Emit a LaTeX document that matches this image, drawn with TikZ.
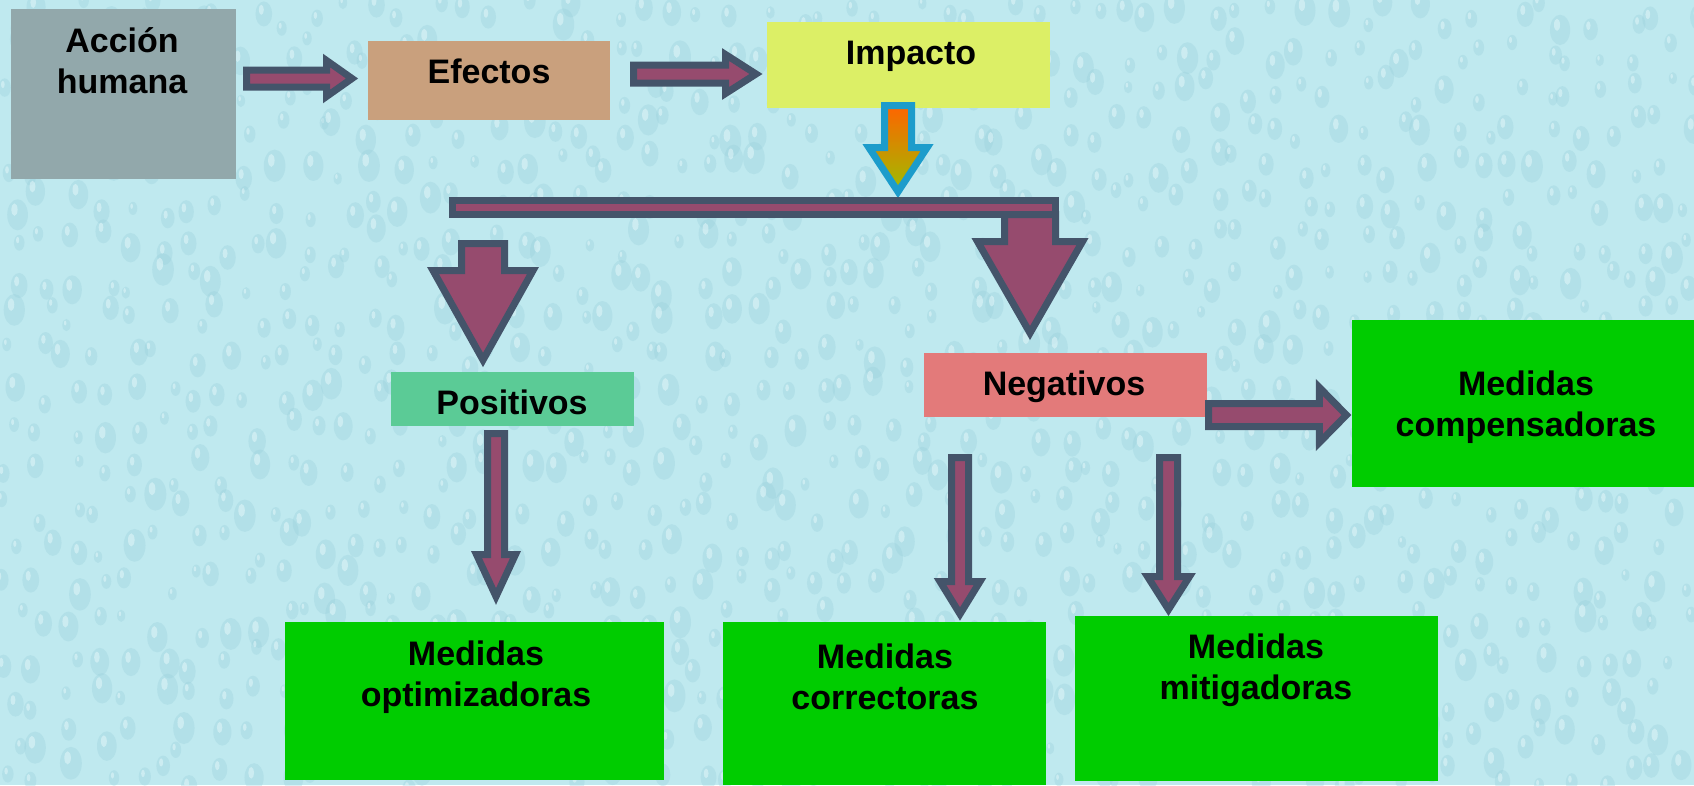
\documentclass[tikz,border=0pt]{standalone}
\usepackage{fontspec}
\setmainfont{Liberation Sans}
\usetikzlibrary{calc}
\definecolor{bg}{HTML}{BFE9EF}
\definecolor{dropdark}{HTML}{9AD0DC}
\definecolor{droplight}{HTML}{E2F7FA}
\definecolor{accgray}{HTML}{92A8AB}
\definecolor{efbrown}{HTML}{C9A07D}
\definecolor{impyellow}{HTML}{DCEF66}
\definecolor{posgreen}{HTML}{5BCB96}
\definecolor{negred}{HTML}{E37A7A}
\definecolor{medgreen}{HTML}{00CC00}
\definecolor{arrowfill}{HTML}{964B6E}
\definecolor{arrowline}{HTML}{44546A}
\definecolor{gradline}{HTML}{1C9CCB}
\definecolor{gradtop}{HTML}{FF6400}
\definecolor{gradbot}{HTML}{9CBF00}
\tikzset{
  box/.style={rectangle, inner sep=0pt, outer sep=0pt, draw=none},
  lbl/.style={font=\fontsize{34}{41}\selectfont\bfseries, align=center, inner sep=0pt, text=black},
  blockarrow/.style={draw=arrowline, fill=arrowfill, line width=7pt, line join=miter},
  gradarrow/.style={draw=gradline, top color=gradtop, bottom color=gradbot, line width=7pt, line join=miter},
  drop/.style={fill=dropdark, fill opacity=0.35},
  dropshine/.style={fill=droplight, fill opacity=0.55},
}
% right-pointing block arrow: #1 start, #2 tip, #3 shaft half width, #4 head half width, #5 head length, #6 style
\newcommand{\rblock}[6]{%
  \path[#6] let \p1=(#1), \p2=(#2) in
    (\x1,\y1+#3) -- (\x2-#5,\y1+#3) -- (\x2-#5,\y1+#4) -- (\x2,\y1) --
    (\x2-#5,\y1-#4) -- (\x2-#5,\y1-#3) -- (\x1,\y1-#3) -- cycle;}
% down-pointing block arrow
\newcommand{\dblock}[6]{%
  \path[#6] let \p1=(#1), \p2=(#2) in
    (\x1-#3,\y1) -- (\x1-#3,\y2+#5) -- (\x1-#4,\y2+#5) -- (\x1,\y2) --
    (\x1+#4,\y2+#5) -- (\x1+#3,\y2+#5) -- (\x1+#3,\y1) -- cycle;}
\begin{document}
\begin{tikzpicture}[x=1pt, y=-1pt]
\useasboundingbox (0,0) rectangle (1694,785);
\fill[bg] (0,0) rectangle (1694,785);
% water-drop texture
\pgfmathsetseed{11}
\begin{scope}
\clip (0,0) rectangle (1694,785);
\foreach \gx in {0,30,...,1710}{
  \foreach \gy in {0,38,...,800}{
    \pgfmathsetmacro{\dx}{\gx+rnd*26}
    \pgfmathsetmacro{\dy}{\gy+rnd*30}
    \pgfmathsetmacro{\dr}{4+rnd*7}
    \fill[drop] (\dx,\dy) ellipse ({\dr} and {1.5*\dr});
    \fill[dropshine] (\dx-0.3*\dr,\dy-0.5*\dr) ellipse ({0.3*\dr} and {0.6*\dr});
  }
}
\end{scope}

% boxes
\node[box, fill=accgray, minimum width=225pt, minimum height=170pt] (acc) at (123.5,94) {};
\node[box, fill=efbrown, minimum width=242pt, minimum height=79pt] (ef) at (489,80.5) {};
\node[box, fill=impyellow, minimum width=283pt, minimum height=86pt] (imp) at (908.5,65) {};
\node[box, fill=posgreen, minimum width=243pt, minimum height=54pt] (pos) at (512.5,399) {};
\node[box, fill=negred, minimum width=283pt, minimum height=64pt] (neg) at (1065.5,385) {};
\node[box, fill=medgreen, minimum width=342pt, minimum height=167pt] (comp) at (1523,403.5) {};
\node[box, fill=medgreen, minimum width=379pt, minimum height=158pt] (opt) at (474.5,701) {};
\node[box, fill=medgreen, minimum width=323pt, minimum height=163pt] (cor) at (884.5,703.5) {};
\node[box, fill=medgreen, minimum width=363pt, minimum height=165pt] (mit) at (1256.5,698.5) {};

% connector end points
\coordinate (a1s) at ($(acc.east)+(10.5,-15.5)$);
\coordinate (a1e) at ($(ef.west)+(-16,-2)$);
\coordinate (a2s) at ($(ef.east)+(23.5,-6.5)$);
\coordinate (a2e) at ($(imp.west)+(-11,9)$);
\coordinate (gs) at ($(imp.south)+(-10.5,-2.5)$);
\coordinate (ge) at ($(imp.south)+(-10.5,83.7)$);
\coordinate (pls) at ($(pos.north)+(-29.5,-128.5)$);
\coordinate (ple) at ($(pos.north)+(-29.5,-12)$);
\coordinate (pos1) at ($(pos.south)+(-16.5,7.5)$);
\coordinate (pos2) at ($(opt.north)+(21.5,-25.5)$);
\coordinate (nl1) at ($(neg.south)+(-105.5,40.5)$);
\coordinate (nl2) at ($(cor.north)+(75.5,-8)$);
\coordinate (nr1) at ($(neg.south)+(103,40.5)$);
\coordinate (nr2) at ($(mit.north)+(-88,-6.5)$);
\coordinate (nc1) at ($(neg.east)+(1.5,30)$);
\coordinate (nc2) at ($(comp.west)+(-5.6,11.5)$);

% arrows
\rblock{a1s}{a1e}{8.5pt}{18pt}{25.5pt}{blockarrow}
\rblock{a2s}{a2e}{9pt}{19.5pt}{30.5pt}{blockarrow}
\dblock{gs}{ge}{13.5pt}{29pt}{44pt}{gradarrow}

\node[box, draw=arrowline, fill=arrowfill, line width=7pt, outer sep=3.5pt,
      minimum width=603pt, minimum height=14pt] (bar) at (754,207.5) {};
\coordinate (brs) at ($(bar.south east)+(-29,-3.5)$);
\coordinate (bre) at ($(neg.north)+(-35.5,-20)$);
\dblock{brs}{bre}{25.5pt}{52.5pt}{91.5pt}{blockarrow}
\node[box, fill=arrowfill, minimum width=596pt, minimum height=7pt] at (bar.center) {};

\dblock{pls}{ple}{21.5pt}{50pt}{89.5pt}{blockarrow}
\dblock{pos1}{pos2}{8.5pt}{19.5pt}{42pt}{blockarrow}
\dblock{nl1}{nl2}{8.5pt}{20pt}{32.5pt}{blockarrow}
\dblock{nr1}{nr2}{9pt}{21pt}{33pt}{blockarrow}
\rblock{nc1}{nc2}{11.5pt}{27.5pt}{27pt}{blockarrow}

% labels
\node[lbl] (acct) at (122,61) {Acción\\humana};
\node[lbl] (eft) at (489,71) {Efectos};
\node[lbl] (impt) at (911,56) {Impacto};
\node[lbl] (post) at (512,402) {Positivos};
\node[lbl] (negt) at (1064,387) {Negativos};
\node[lbl] (compt) at (1526,407) {Medidas\\compensadoras};
\node[lbl] (optt) at (476,677) {Medidas\\optimizadoras};
\node[lbl] (cort) at (885,677) {Medidas\\correctoras};
\node[lbl] (mitt) at (1256,670) {Medidas\\mitigadoras};
\end{tikzpicture}
\end{document}
